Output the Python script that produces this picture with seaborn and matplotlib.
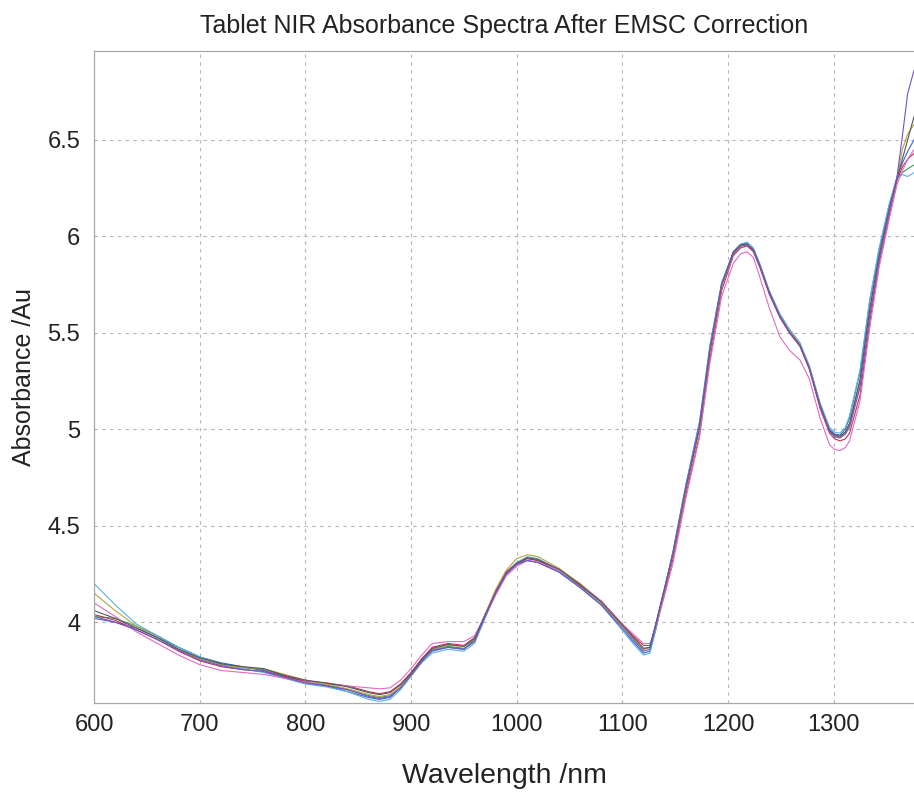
import matplotlib
matplotlib.use("Agg")
import matplotlib.pyplot as plt
import seaborn as sns
import pandas as pd

# Wavelength grid (nm) shared by all tablet spectra
wavelength = [600, 620, 640, 660, 680, 700, 720, 740, 760, 780, 800, 820, 840, 860,
              870, 880, 890, 900, 910, 920, 935, 950, 960, 970, 980, 990, 1000, 1010,
              1020, 1040, 1060, 1080, 1100, 1110, 1120, 1126, 1132, 1140, 1148, 1160,
              1173, 1183, 1194, 1205, 1212, 1218, 1224, 1230, 1239, 1249, 1258, 1268,
              1277, 1287, 1296, 1301, 1306, 1311, 1315, 1325, 1334, 1343, 1353, 1360,
              1365, 1370, 1376]

# EMSC-corrected absorbance of each tablet
tablet_1 = [4.03, 4.00, 3.97, 3.92, 3.87, 3.82, 3.79, 3.77, 3.75, 3.72, 3.69, 3.67, 3.64, 3.61,
            3.60, 3.61, 3.66, 3.73, 3.80, 3.85, 3.87, 3.86, 3.91, 4.04, 4.16, 4.25, 4.30, 4.32,
            4.31, 4.26, 4.18, 4.09, 3.96, 3.90, 3.84, 3.85, 3.97, 4.17, 4.37, 4.71,
            5.04, 5.44, 5.76, 5.91, 5.95, 5.96, 5.93, 5.85, 5.71, 5.59, 5.51, 5.44,
            5.32, 5.13, 5.00, 4.975, 4.97, 5.00, 5.06, 5.30, 5.66, 5.93, 6.17, 6.31,
            6.38, 6.44, 6.50]
tablet_2 = [4.03, 4.02, 3.98, 3.93, 3.87, 3.82, 3.785, 3.765, 3.755, 3.725, 3.69, 3.675, 3.65, 3.62,
            3.61, 3.62, 3.66, 3.73, 3.81, 3.86, 3.875, 3.865, 3.90, 4.03, 4.15, 4.25, 4.30, 4.33,
            4.32, 4.27, 4.19, 4.10, 3.98, 3.92, 3.86, 3.87, 4.00, 4.18, 4.36, 4.69,
            5.01, 5.41, 5.75, 5.92, 5.96, 5.965, 5.935, 5.85, 5.71, 5.59, 5.51, 5.44,
            5.32, 5.13, 4.99, 4.965, 4.96, 4.985, 5.03, 5.25, 5.61, 5.90, 6.15, 6.30,
            6.33, 6.35, 6.37]
tablet_3 = [4.04, 4.01, 3.96, 3.91, 3.85, 3.80, 3.77, 3.755, 3.745, 3.72, 3.695, 3.685, 3.67, 3.64,
            3.63, 3.64, 3.68, 3.74, 3.81, 3.87, 3.89, 3.88, 3.92, 4.04, 4.16, 4.26, 4.31, 4.33,
            4.32, 4.27, 4.19, 4.11, 3.99, 3.93, 3.88, 3.88, 3.99, 4.15, 4.33, 4.66,
            4.97, 5.37, 5.72, 5.90, 5.94, 5.95, 5.92, 5.84, 5.70, 5.58, 5.50, 5.43,
            5.31, 5.11, 4.98, 4.95, 4.94, 4.95, 4.98, 5.18, 5.55, 5.86, 6.12, 6.29,
            6.36, 6.40, 6.43]
tablet_4 = [4.20, 4.09, 3.99, 3.93, 3.87, 3.82, 3.78, 3.76, 3.74, 3.71, 3.68, 3.665, 3.64, 3.60,
            3.59, 3.60, 3.65, 3.72, 3.79, 3.84, 3.86, 3.85, 3.89, 4.02, 4.15, 4.25, 4.31, 4.34,
            4.33, 4.27, 4.18, 4.09, 3.96, 3.89, 3.83, 3.84, 3.97, 4.17, 4.37, 4.71,
            5.03, 5.43, 5.76, 5.92, 5.96, 5.97, 5.94, 5.86, 5.72, 5.60, 5.52, 5.45,
            5.33, 5.14, 5.01, 4.985, 4.98, 5.01, 5.07, 5.31, 5.67, 5.94, 6.18, 6.30,
            6.32, 6.31, 6.33]
tablet_5 = [4.10, 4.03, 3.95, 3.89, 3.83, 3.78, 3.75, 3.74, 3.73, 3.71, 3.69, 3.68, 3.67, 3.66,
            3.655, 3.66, 3.70, 3.76, 3.83, 3.89, 3.90, 3.90, 3.93, 4.03, 4.14, 4.24, 4.29, 4.32,
            4.31, 4.27, 4.20, 4.11, 3.99, 3.94, 3.89, 3.89, 3.98, 4.14, 4.31, 4.64,
            4.96, 5.35, 5.69, 5.86, 5.91, 5.92, 5.89, 5.79, 5.63, 5.48, 5.41, 5.36,
            5.26, 5.06, 4.92, 4.895, 4.89, 4.905, 4.94, 5.15, 5.52, 5.84, 6.10, 6.27,
            6.34, 6.40, 6.45]
tablet_6 = [4.15, 4.06, 3.98, 3.92, 3.86, 3.81, 3.78, 3.765, 3.76, 3.73, 3.70, 3.68, 3.655, 3.625,
            3.615, 3.625, 3.665, 3.73, 3.80, 3.86, 3.88, 3.875, 3.91, 4.04, 4.17, 4.27, 4.33, 4.35,
            4.34, 4.28, 4.20, 4.10, 3.98, 3.92, 3.86, 3.87, 3.99, 4.17, 4.35, 4.68,
            5.00, 5.40, 5.74, 5.91, 5.95, 5.96, 5.93, 5.85, 5.71, 5.59, 5.51, 5.44,
            5.32, 5.13, 4.99, 4.965, 4.96, 4.98, 5.02, 5.23, 5.59, 5.88, 6.14, 6.30,
            6.45, 6.53, 6.58]
tablet_7 = [4.06, 4.02, 3.97, 3.92, 3.86, 3.815, 3.785, 3.77, 3.76, 3.725, 3.70, 3.685, 3.665, 3.635,
            3.625, 3.635, 3.675, 3.735, 3.805, 3.865, 3.885, 3.875, 3.915, 4.035, 4.155, 4.255, 4.305, 4.335,
            4.325, 4.275, 4.195, 4.105, 3.985, 3.925, 3.865, 3.87, 4.00, 4.18, 4.36, 4.69,
            5.01, 5.41, 5.75, 5.92, 5.955, 5.96, 5.93, 5.85, 5.71, 5.585, 5.505, 5.435,
            5.315, 5.125, 4.995, 4.97, 4.965, 4.985, 5.03, 5.26, 5.62, 5.90, 6.15, 6.30,
            6.40, 6.50, 6.62]
tablet_8 = [4.02, 4.00, 3.96, 3.91, 3.855, 3.805, 3.775, 3.755, 3.745, 3.715, 3.685, 3.67, 3.65, 3.615,
            3.605, 3.615, 3.66, 3.725, 3.795, 3.855, 3.87, 3.86, 3.90, 4.03, 4.15, 4.25, 4.30, 4.32,
            4.31, 4.26, 4.18, 4.09, 3.97, 3.91, 3.85, 3.86, 3.99, 4.17, 4.36, 4.70,
            5.02, 5.42, 5.75, 5.91, 5.95, 5.955, 5.925, 5.845, 5.705, 5.585, 5.505, 5.435,
            5.315, 5.12, 4.99, 4.96, 4.955, 4.975, 5.01, 5.22, 5.58, 5.88, 6.14, 6.31,
            6.52, 6.74, 6.86]

tablet_names = ["T1", "T2", "T3", "T4", "T5", "T6", "T7", "T8"]
tablet_spectra = [tablet_1, tablet_2, tablet_3, tablet_4, tablet_5, tablet_6, tablet_7, tablet_8]
tablet_colors = ["#3f63d2", "#3d9a5c", "#c4304e", "#55b4e2", "#e26ac4", "#b8a442", "#55565f", "#7452c4"]

frames = [pd.DataFrame({"Wavelength": wavelength, "Absorbance": s, "Tablet": n})
          for n, s in zip(tablet_names, tablet_spectra)]
df = pd.concat(frames, ignore_index=True)

sns.set_style("white")
plt.rcParams["font.family"] = ["Liberation Sans", "DejaVu Sans"]

fig = plt.figure(figsize=(9.14, 7.92), dpi=100)
ax = fig.add_axes([0.103, 0.112, 0.897, 0.8235])

sns.lineplot(data=df, x="Wavelength", y="Absorbance", hue="Tablet",
             palette=dict(zip(tablet_names, tablet_colors)), estimator=None,
             sort=False, linewidth=0.8, legend=False, ax=ax)

ax.set_xlim(600, 1376)
ax.set_ylim(3.58, 6.96)
ax.set_xticks([600, 700, 800, 900, 1000, 1100, 1200, 1300])
ax.set_yticks([4, 4.5, 5, 5.5, 6, 6.5])
ax.set_yticklabels(["4", "4.5", "5", "5.5", "6", "6.5"])

ax.grid(True, linestyle=(0, (3, 4)), color="#b4b4b4", linewidth=0.8)
ax.set_axisbelow(True)
for side in ["left", "bottom", "top"]:
    ax.spines[side].set_color("#a8a8a8")
    ax.spines[side].set_linewidth(0.9)
ax.spines["right"].set_visible(False)

ax.tick_params(axis="both", direction="in", length=6, color="#a8a8a8",
               labelsize=17, labelcolor="#222222")
ax.tick_params(axis="x", pad=8)
ax.tick_params(axis="y", pad=10)

ax.set_xlabel("Wavelength /nm", fontsize=20.5, color="#222222", labelpad=19)
ax.set_ylabel("Absorbance /Au", fontsize=18, color="#222222", labelpad=8)
ax.set_title("Tablet NIR Absorbance Spectra After EMSC Correction",
             fontsize=18, color="#222222", pad=13)

fig.savefig("out.png", dpi=100, facecolor="white")
